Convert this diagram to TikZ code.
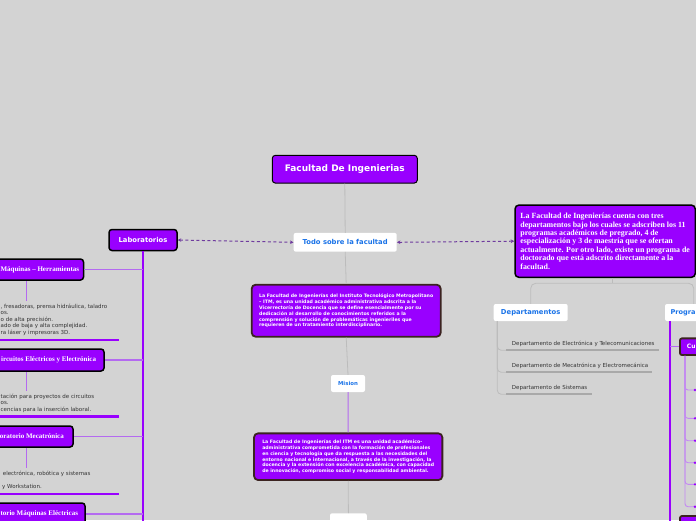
\documentclass[tikz,border=0pt]{standalone}
\usepackage{fontspec}
\setmainfont{DejaVu Sans}
\newfontfamily\tms{Liberation Serif}
\usetikzlibrary{arrows.meta}
\definecolor{bgc}{HTML}{D3D3D3}
\definecolor{vio}{HTML}{9900FF}
\definecolor{lvio}{HTML}{B46AF0}
\definecolor{brn}{HTML}{3B2320}
\definecolor{blu}{HTML}{1A73E8}
\definecolor{glc}{HTML}{BCBCBC}
\definecolor{gulc}{HTML}{A9A9A9}
\definecolor{dshc}{HTML}{6F3B9E}
\definecolor{itc}{HTML}{333333}
\tikzset{
 >={Stealth[length=3.5pt,width=3.5pt]},
 topic/.style={draw=black, line width=1.5pt, fill=vio, rounded corners=3pt, inner sep=0pt, text=white, font=\bfseries\fontsize{6.8}{8}\selectfont},
 lbox/.style={draw=black, line width=1.5pt, fill=vio, rounded corners=3pt, inner sep=0pt},
 ltxt/.style={text=white, inner sep=0pt, anchor=east, font=\tms\bfseries\fontsize{7}{8}\selectfont},
 wbox/.style={fill=white, rounded corners=2pt, inner sep=0pt, text=blu, font=\bfseries\fontsize{6.8}{8}\selectfont},
 desc/.style={draw=brn, line width=1.8pt, fill=vio, rounded corners=4pt, inner sep=0pt, text=white, align=left, font=\bfseries\fontsize{4.65}{5.95}\selectfont},
 cbox/.style={draw=brn, line width=1.8pt, fill=vio, rounded corners=2pt, inner sep=0pt},
 item/.style={text=itc, inner sep=0pt, anchor=west, font=\fontsize{5.5}{6.5}\selectfont},
 gline/.style={draw=glc, line width=0.8pt},
 vline/.style={draw=vio, line width=2pt},
 lline/.style={draw=lvio, line width=1.1pt},
 pul/.style={draw=vio, line width=2.5pt},
 gul/.style={draw=gulc, line width=2pt},
 dline/.style={draw=dshc, line width=1pt, dash pattern=on 3pt off 2.5pt}
}
\begin{document}
\begin{tikzpicture}[x=1pt,y=-1pt]
\useasboundingbox (0,0) rectangle (696,520);
\fill[bgc] (0,0) rectangle (696,520);

% ---------- centre column ----------
\node[topic, line width=1pt, font=\bfseries\fontsize{9}{10}\selectfont, minimum width=145pt, minimum height=27.7pt] (fac) at (344.8,169.2) {Facultad De Ingenierias};
\node[wbox, minimum width=103pt, minimum height=18.7pt] (todo) at (345.2,242.3) {Todo sobre la facultad};
\node[desc, minimum width=189pt, minimum height=52pt] (d1) at (346.2,310.7) {La Facultad de Ingenierías del Instituto Tecnológico Metropolitano\\– ITM, es una unidad académico administrativa adscrita a la\\Vicerrectoría de Docencia que se define esencialmente por su\\dedicación al desarrollo de conocimientos referidos a la\\comprensión y solución de problemáticas ingenieriles que\\requieren de un tratamiento interdisciplinario.};
\node[wbox, font=\bfseries\fontsize{5.4}{6.5}\selectfont, minimum width=34pt, minimum height=17pt] (mis) at (348,383.5) {Mision};
\node[desc, minimum width=188.3pt, minimum height=46.7pt] (d2) at (348.2,456.7) {La Facultad de Ingenierías del ITM es una unidad académico-\\administrativa comprometida con la formación de profesionales\\en ciencia y tecnología que da respuesta a las necesidades del\\entorno nacional e internacional, a través de la investigación, la\\docencia y la extensión con excelencia académica, con capacidad\\de innovación, compromiso social y responsabilidad ambiental.};
\node[wbox, minimum width=36.7pt, minimum height=16pt] (bot) at (348.4,521.3) {};

\draw[gline] (fac.south) -- (todo.north);
\draw[gline] (todo.south) -- (d1.north);
\draw[gline] (d1.south) -- (mis.north);
\draw[lline, line width=1pt] (mis.south) -- (d2.north);
\draw[gline] (d2.south) -- (bot.north);

% ---------- left: Laboratorios ----------
\node[topic, minimum width=68pt, minimum height=21pt] (lab) at (143,240) {Laboratorios};
\draw[dline, <->] (lab.east) -- (todo.west);
\coordinate (labend) at (143,525);
\draw[vline] (lab.south) -- (labend);

\node[lbox, minimum width=91.5pt, minimum height=21pt] (mh) at (37.75,269.5) {};
\node[ltxt, anchor=west] (mht) at (0.4,270) {Máquinas – Herramientas};
\node[lbox, minimum width=112pt, minimum height=22pt] (ce) at (48,360) {};
\node[ltxt] (cet) at (96.3,360) {ircuitos Eléctricos y Electrónica};
\node[lbox, minimum width=81pt, minimum height=21pt] (mec) at (32.5,436.5) {};
\node[ltxt] (mect) at (64,436.5) {oratorio Mecatrónica};
\node[lbox, minimum width=93pt, minimum height=22pt] (me) at (38.5,514) {};
\node[ltxt, anchor=west] (met) at (0.4,514) {torio Máquinas Eléctricas};

\foreach \n in {mh,ce,mec,me} \draw[lline] (\n.east) -- (\n.east -| labend);

\coordinate (mhl) at (26.3,301);
\draw[lline] (mh.south -| mhl) -- (mhl);
\node[item] (a1) at (0.5,306.7) {, fresadoras, prensa hidráulica, taladro};
\node[item] (a2) at (0.5,312.7) {os.};
\node[item] (a3) at (0.5,320) {o de alta precisión.};
\node[item] (a4) at (0.5,325.7) {ado de baja y alta complejidad.};
\node[item] (a5) at (0.5,333) {ra láser y impresoras 3D.};
\coordinate (p1) at (0,340);
\draw[pul] (p1) -- ++(119,0);

\coordinate (cel) at (26.3,391);
\draw[lline] (ce.south -| cel) -- (cel);
\node[item] (b1) at (0.5,397) {tación para proyectos de circuitos};
\node[item] (b2) at (0.5,402.7) {os.};
\node[item] (b3) at (0.5,410) {cencias para la inserción laboral.};
\coordinate (p2) at (0,416.7);
\draw[pul] (p2) -- ++(119,0);

\coordinate (mecl) at (26.3,467.7);
\draw[lline] (mec.south -| mecl) -- (mecl);
\node[item] (c1) at (2.7,474) {electrónica, robótica y sistemas};
\node[item] (c2) at (2,487.3) {y Workstation.};
\coordinate (p3) at (0,494);
\draw[pul] (p3) -- ++(119,0);

% ---------- right ----------
\node[draw=black, line width=1.5pt, fill=vio, rounded corners=4pt, inner sep=0pt, minimum width=180.3pt, minimum height=72.3pt, text=white, align=left, font=\tms\bfseries\fontsize{7.9}{8.4}\selectfont] (big) at (605.15,241.2) {La Facultad de Ingenierías cuenta con tres\\departamentos bajo los cuales se adscriben los 11\\programas académicos de pregrado, 4 de\\especialización y 3 de maestría que se ofertan\\actualmente. Por otro lado, existe un programa de\\doctorado que está adscrito directamente a la\\facultad.};
\draw[dline, <->] (todo.east) -- (big.west);

\node[wbox, minimum width=74pt, minimum height=17pt] (dep) at (530.7,312.5) {Departamentos};
\node[wbox, minimum width=57.4pt, minimum height=17pt] (prog) at (693.7,312.5) {};
\node[text=blu, inner sep=0pt, anchor=west, font=\bfseries\fontsize{6.6}{8}\selectfont] (progt) at (670.3,312.7) {Progra};

\coordinate (brk) at (612,283.3);
\draw[gline] (brk |- big.south) -- (brk);
\draw[gline, rounded corners=5pt] (dep.north) -- (dep.north |- brk) -- (prog.north |- brk) -- (prog.north);

\coordinate (dv) at (497.3,0);
\node[item] (e1) at (511.7,344) {Departamento de Electrónica y Telecomunicaciones};
\node[item] (e2) at (511.7,365.7) {Departamento de Mecatrónica y Electromecánica};
\node[item] (e3) at (511.7,387.7) {Departamento de Sistemas};
\coordinate (u1) at (506,350.3);
\coordinate (u2) at (506,372.3);
\coordinate (u3) at (506,394.3);
\draw[gul] (u1) -- ++(152.7,0);
\draw[gul] (u2) -- ++(146,0);
\draw[gul] (u3) -- ++(86,0);
\foreach \u in {u1,u2,u3} \draw[gline, rounded corners=4pt] (dep.south -| dv) |- (\u);

\coordinate (pv) at (670,525);
\draw[vline] (prog.south -| pv) -- (pv);
\node[cbox, minimum width=30pt, minimum height=16.7pt] (cu) at (695,346.7) {};
\node[text=white, inner sep=0pt, anchor=west, font=\bfseries\fontsize{6}{7}\selectfont] (cut) at (686.7,346.7) {Cu};
\draw[lline] (cu.west -| pv) -- (cu.west);
\node[cbox, minimum width=32pt, minimum height=20pt] (cu2) at (696,526) {};
\coordinate (cx) at (685,0);
\foreach \yy [count=\k] in {390,418.3,440.7,462.7,484.3,506.7} {
  \coordinate (q\k) at (695,\yy);
  \draw[lline, draw=lvio!80!white, line width=0.9pt, rounded corners=3pt] (cu.south -| cx) |- (q\k);
  \fill[vio] (q\k) circle (1.3pt);
}
\end{tikzpicture}
\end{document}
